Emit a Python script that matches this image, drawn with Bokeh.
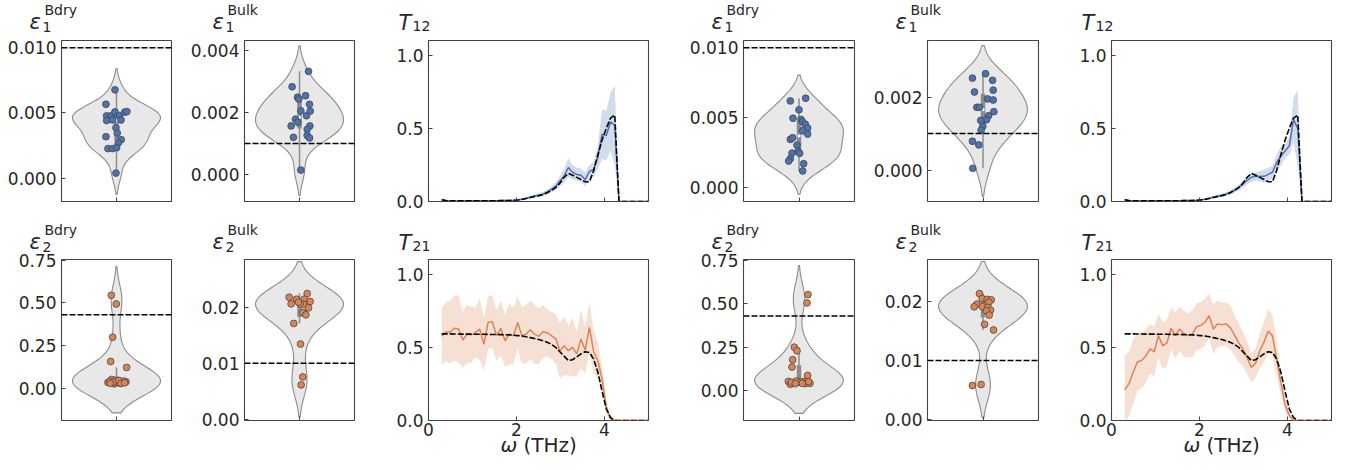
import numpy as np
from bokeh.plotting import figure
from bokeh.layouts import row, column
from bokeh.models import Range1d, FixedTicker, NumeralTickFormatter, Label, Span
from bokeh.embed import file_html
from bokeh.resources import INLINE

# ---------------------------------------------------------------- data ----
# fitted interface parameters (one value per fit) and their horizontal jitter
eps1_bdry_a = [0.00677, 0.00566, 0.00477, 0.00441, 0.00479, 0.00507, 0.00446, 0.00479, 0.00446, 0.00505,
               0.00510, 0.00386, 0.00345, 0.00317, 0.00294, 0.00269, 0.00226, 0.00226, 0.00233, 0.00038]
eps1_bdry_a_jit = [-0.014, -0.096, -0.090, -0.090, -0.047, -0.014, -0.035, 0.025, 0.041, 0.074,
                   0.095, -0.005, 0.007, -0.096, 0.043, 0.016, -0.078, -0.035, 0.001, -0.005]
eps1_bulk_a = [0.00334, 0.00284, 0.00250, 0.00244, 0.00255, 0.00227, 0.00206, 0.00205, 0.00190, 0.00179,
               0.00169, 0.00157, 0.00157, 0.00146, 0.00120, 0.00126, 0.00118, 0.00014]
eps1_bulk_a_jit = [0.082, -0.067, -0.018, -0.006, 0.055, 0.091, 0.012, 0.097, 0.064, -0.036,
                   -0.015, -0.076, 0.094, 0.070, -0.055, 0.070, 0.091, 0.012]
eps2_bdry_a = [0.544, 0.493, 0.298, 0.156, 0.121, 0.051, 0.033, 0.025, 0.029, 0.037,
               0.035, 0.043, 0.039, 0.033, 0.041, 0.035, 0.045, 0.027, 0.028, 0.031]
eps2_bdry_a_jit = [-0.047, -0.002, -0.035, -0.053, 0.092, -0.044, -0.078, -0.020, 0.031, 0.086,
                   0.007, -0.008, -0.062, 0.053, 0.068, -0.029, 0.022, 0.040, -0.056, 0.074]
eps2_bulk_a = [0.02178, 0.02243, 0.02142, 0.02142, 0.02059, 0.02053, 0.02101, 0.02059, 0.01988, 0.01905,
               0.01864, 0.01710, 0.01343, 0.00757, 0.00615, 0.02090]
eps2_bulk_a_jit = [-0.094, 0.070, -0.027, 0.042, -0.076, 0.036, 0.097, 0.006, 0.082, 0.030,
                   0.058, -0.052, 0.009, 0.030, 0.015, -0.009]

eps1_bdry_b = [0.00619, 0.00638, 0.00555, 0.00495, 0.00486, 0.00471, 0.00452, 0.00424, 0.00405, 0.00381,
               0.00343, 0.00355, 0.00302, 0.00257, 0.00245, 0.00243, 0.00205, 0.00188, 0.00169, 0.00117]
eps1_bdry_b_jit = [-0.078, 0.060, 0.000, -0.054, 0.018, 0.030, 0.057, 0.078, 0.033, 0.078,
                   -0.078, -0.057, -0.018, -0.009, -0.063, 0.006, -0.078, -0.093, 0.042, 0.033]
eps1_bulk_b = [0.00252, 0.00264, 0.00246, 0.00214, 0.00219, 0.00195, 0.00192, 0.00172, 0.00172, 0.00160,
               0.00149, 0.00138, 0.00136, 0.00120, 0.00109, 0.00079, 0.00069, 0.00005]
eps1_bulk_b_jit = [-0.095, 0.023, 0.086, -0.077, 0.092, 0.041, 0.092, -0.056, -0.032, 0.098,
                   0.050, 0.032, -0.020, -0.002, -0.017, -0.095, -0.038, -0.092]
eps2_bdry_b = [0.552, 0.504, 0.251, 0.230, 0.179, 0.137, 0.089, 0.055, 0.048, 0.051,
               0.055, 0.044, 0.038, 0.042, 0.057, 0.050, 0.050, 0.044, 0.042, 0.053]
eps2_bdry_b_jit = [0.081, 0.072, -0.042, -0.018, -0.057, -0.063, 0.078, -0.096, -0.045, -0.003,
                   0.048, 0.099, -0.078, 0.057, -0.024, 0.018, -0.069, 0.030, -0.033, 0.087]
eps2_bulk_b = [0.02140, 0.02056, 0.02040, 0.02034, 0.01960, 0.01994, 0.01915, 0.01920, 0.01904, 0.01859,
               0.01847, 0.01774, 0.01616, 0.01520, 0.00593, 0.00576]
eps2_bulk_b_jit = [-0.032, -0.008, 0.038, 0.074, -0.056, 0.053, -0.080, -0.005, 0.044, 0.068,
                   0.032, 0.056, 0.014, 0.095, -0.017, -0.095]

# reference (true) parameter values
eps1_bdry_ref = 0.010
eps1_bulk_ref = 0.001
eps2_bdry_ref = 0.43
eps2_bulk_ref = 0.010

# transmission spectra
freq = [0.300, 0.396, 0.492, 0.588, 0.684, 0.780, 0.876, 0.971, 1.067, 1.163,
        1.259, 1.355, 1.451, 1.547, 1.643, 1.739, 1.835, 1.931, 2.027, 2.122,
        2.218, 2.314, 2.410, 2.506, 2.602, 2.698, 2.794, 2.890, 2.986, 3.082,
        3.178, 3.273, 3.369, 3.465, 3.561, 3.657, 3.753, 3.849, 3.945, 4.041,
        4.137, 4.233, 4.329, 4.424, 4.520, 4.616, 4.712, 4.808, 4.904, 5.000]

t12_ref = [0.012, 0.006, 0.004, 0.004, 0.004, 0.004, 0.004, 0.005, 0.005, 0.005,
           0.005, 0.005, 0.005, 0.005, 0.006, 0.006, 0.007, 0.008, 0.010, 0.014,
           0.020, 0.027, 0.034, 0.040, 0.048, 0.060, 0.075, 0.095, 0.125, 0.165,
           0.192, 0.180, 0.165, 0.150, 0.135, 0.135, 0.210, 0.320, 0.420, 0.500,
           0.570, 0.590, 0.0, 0.0, 0.0, 0.0, 0.0, 0.0, 0.0, 0.0]
t21_ref = [0.592, 0.592, 0.592, 0.591, 0.591, 0.590, 0.590, 0.590, 0.589, 0.589,
           0.589, 0.588, 0.588, 0.588, 0.587, 0.586, 0.585, 0.583, 0.580, 0.577,
           0.572, 0.566, 0.560, 0.553, 0.545, 0.535, 0.520, 0.500, 0.470, 0.440,
           0.410, 0.415, 0.435, 0.455, 0.470, 0.465, 0.420, 0.330, 0.200, 0.080,
           0.020, 0.0, 0.0, 0.0, 0.0, 0.0, 0.0, 0.0, 0.0, 0.0]

t12_mean_a = [0.012, 0.006, 0.004, 0.004, 0.004, 0.004, 0.005, 0.005, 0.005, 0.005,
              0.005, 0.005, 0.005, 0.005, 0.006, 0.006, 0.007, 0.008, 0.011, 0.016,
              0.022, 0.030, 0.038, 0.043, 0.050, 0.065, 0.083, 0.105, 0.140, 0.175,
              0.232, 0.200, 0.185, 0.180, 0.150, 0.205, 0.220, 0.300, 0.460, 0.450,
              0.545, 0.520, 0.0, 0.0, 0.0, 0.0, 0.0, 0.0, 0.0, 0.0]
t12_std_a = [0.003, 0.003, 0.003, 0.003, 0.003, 0.003, 0.003, 0.003, 0.003, 0.003,
             0.003, 0.003, 0.003, 0.003, 0.003, 0.003, 0.003, 0.003, 0.005, 0.006,
             0.008, 0.010, 0.012, 0.013, 0.015, 0.018, 0.020, 0.025, 0.035, 0.050,
             0.065, 0.050, 0.045, 0.045, 0.050, 0.045, 0.050, 0.080, 0.170, 0.170,
             0.200, 0.270, 0.0, 0.0, 0.0, 0.0, 0.0, 0.0, 0.0, 0.0]
t12_mean_b = [0.012, 0.006, 0.004, 0.004, 0.004, 0.004, 0.005, 0.005, 0.005, 0.005,
              0.005, 0.005, 0.005, 0.005, 0.006, 0.006, 0.007, 0.009, 0.012, 0.016,
              0.022, 0.030, 0.036, 0.042, 0.050, 0.062, 0.077, 0.095, 0.118, 0.145,
              0.165, 0.172, 0.170, 0.172, 0.185, 0.200, 0.265, 0.310, 0.345, 0.380,
              0.560, 0.500, 0.0, 0.0, 0.0, 0.0, 0.0, 0.0, 0.0, 0.0]
t12_std_b = [0.003, 0.003, 0.003, 0.003, 0.003, 0.003, 0.003, 0.003, 0.003, 0.003,
             0.003, 0.003, 0.003, 0.003, 0.003, 0.003, 0.003, 0.003, 0.004, 0.005,
             0.006, 0.008, 0.010, 0.012, 0.014, 0.016, 0.018, 0.020, 0.024, 0.028,
             0.030, 0.030, 0.035, 0.045, 0.045, 0.040, 0.055, 0.065, 0.050, 0.060,
             0.150, 0.260, 0.0, 0.0, 0.0, 0.0, 0.0, 0.0, 0.0, 0.0]

t21_mean_a = [0.575, 0.605, 0.605, 0.630, 0.625, 0.550, 0.590, 0.585, 0.600, 0.625,
              0.520, 0.670, 0.675, 0.580, 0.630, 0.545, 0.590, 0.580, 0.670, 0.580,
              0.590, 0.620, 0.590, 0.575, 0.607, 0.600, 0.580, 0.560, 0.477, 0.510,
              0.477, 0.500, 0.455, 0.557, 0.480, 0.636, 0.470, 0.410, 0.284, 0.090,
              0.015, 0.0, 0.0, 0.0, 0.0, 0.0, 0.0, 0.0, 0.0, 0.0]
t21_std_a = [0.195, 0.200, 0.215, 0.220, 0.230, 0.190, 0.200, 0.190, 0.170, 0.210,
             0.180, 0.180, 0.180, 0.170, 0.190, 0.175, 0.210, 0.190, 0.180, 0.190,
             0.200, 0.200, 0.200, 0.190, 0.180, 0.160, 0.160, 0.170, 0.190, 0.200,
             0.170, 0.200, 0.150, 0.200, 0.160, 0.170, 0.150, 0.120, 0.080, 0.050,
             0.015, 0.0, 0.0, 0.0, 0.0, 0.0, 0.0, 0.0, 0.0, 0.0]
t21_mean_b = [0.210, 0.250, 0.330, 0.400, 0.410, 0.440, 0.490, 0.470, 0.580, 0.510,
              0.530, 0.630, 0.580, 0.625, 0.595, 0.580, 0.590, 0.640, 0.650, 0.670,
              0.716, 0.625, 0.660, 0.655, 0.660, 0.635, 0.585, 0.530, 0.490, 0.430,
              0.363, 0.390, 0.475, 0.535, 0.610, 0.580, 0.420, 0.260, 0.110, 0.035,
              0.0, 0.0, 0.0, 0.0, 0.0, 0.0, 0.0, 0.0, 0.0, 0.0]
t21_std_b = [0.230, 0.220, 0.220, 0.200, 0.190, 0.180, 0.170, 0.170, 0.150, 0.160,
             0.160, 0.140, 0.160, 0.150, 0.160, 0.150, 0.160, 0.160, 0.160, 0.160,
             0.150, 0.170, 0.160, 0.150, 0.150, 0.150, 0.140, 0.130, 0.120, 0.110,
             0.100, 0.100, 0.120, 0.140, 0.150, 0.140, 0.120, 0.080, 0.050, 0.020,
             0.0, 0.0, 0.0, 0.0, 0.0, 0.0, 0.0, 0.0, 0.0, 0.0]

# tick positions
ticks_eps1_bdry = [0.0, 0.005, 0.010]
ticks_eps1_bulk_a = [0.0, 0.002, 0.004]
ticks_eps1_bulk_b = [0.0, 0.002]
ticks_eps2_bdry = [0.0, 0.25, 0.50, 0.75]
ticks_eps2_bulk = [0.0, 0.01, 0.02]
ticks_t_y = [0.0, 0.5, 1.0]
ticks_t_x = [0, 2, 4]

# --------------------------------------------------------------- style ----
BLUE = "#4C72B0"
ORANGE = "#DD8452"
FRAME = "#444444"
TEXT = "#262626"
VIOLIN_FILL = "#e8e8e8"
VIOLIN_EDGE = "#8c8c8c"
BOX = "#8c8c8c"
FONT = "DejaVu Sans"

# column geometry: figure width, left border, right border
COLS = [(183, 61, 12), (183, 61, 12), (309, 62, 27), (191, 68, 12), (184, 61, 12), (308, 61, 27)]
# row geometry: figure height, top border, bottom border
ROWS = [(214, 39, 13), (256, 45, 50)]
LIFT = 6      # raises label baselines to where the text should sit


def base_fig(col, rw, xr, yr):
    width, left, right = COLS[col]
    height, top, bottom = ROWS[rw]
    p = figure(width=width, height=height, x_range=Range1d(*xr), y_range=Range1d(*yr),
               output_backend="svg", toolbar_location=None, title=None,
               min_border_left=left, min_border_right=right,
               min_border_top=top, min_border_bottom=bottom)
    p.grid.visible = False
    p.background_fill_color = "white"
    p.border_fill_color = "white"
    p.outline_line_color = FRAME
    p.outline_line_width = 1.1
    p.outline_line_alpha = 1.0
    for ax in (p.xaxis[0], p.yaxis[0]):
        ax.axis_line_color = None
        ax.major_tick_in = 4
        ax.major_tick_out = 0
        ax.major_tick_line_color = FRAME
        ax.major_tick_line_width = 1
        ax.minor_tick_line_color = None
        ax.major_label_text_font = FONT
        ax.major_label_text_font_size = "17px"
        ax.major_label_text_color = TEXT
    p.yaxis.major_label_standoff = 5
    p.xaxis.major_label_standoff = 2
    return p


def hide_x_labels(p, ticks):
    p.xaxis.major_label_overrides = {t: "" for t in ticks}
    p.xaxis.major_label_text_font_size = "0px"
    p.xaxis.major_label_standoff = 0


def border_label(p, x, y, text, size, style, side):
    # text placed in canvas pixels; kept in a border panel so the frame does not clip it
    p.add_layout(Label(x=x, y=y - LIFT, x_units="canvas", y_units="canvas", text=text,
                       text_font=FONT, text_font_size=size, text_font_style=style,
                       text_color=TEXT, text_align="left", text_baseline="alphabetic"), side)


def kde_outline(vals, cut=2.0, gridsize=100):
    v = np.asarray(vals, dtype=float)
    bw = v.std(ddof=1) * v.size ** (-0.2)          # Scott's rule
    ys = np.linspace(v.min() - cut * bw, v.max() + cut * bw, gridsize)
    dens = np.exp(-0.5 * ((ys[:, None] - v[None, :]) / bw) ** 2).sum(axis=1)
    return ys, dens / dens.max()


def violin_panel(col, rw, vals, jit, ref, color, yr, ticks, fmt, sub, sup):
    p = base_fig(col, rw, (-0.5, 0.5), yr)
    v = np.asarray(vals, dtype=float)
    ys, dens = kde_outline(v)
    half = 0.4 * dens
    p.patch(np.concatenate([-half, half[::-1]]), np.concatenate([ys, ys[::-1]]),
            fill_color=VIOLIN_FILL, line_color=VIOLIN_EDGE, line_width=1.1)
    q25, q50, q75 = np.percentile(v, [25, 50, 75])
    lim = 1.5 * (q75 - q25)
    lo = v[v >= q25 - lim].min()
    hi = v[v <= q75 + lim].max()
    p.segment(x0=[0], y0=[lo], x1=[0], y1=[hi], line_color=BOX, line_width=1.5)
    p.segment(x0=[0], y0=[q25], x1=[0], y1=[q75], line_color=BOX, line_width=4.5)
    p.scatter([0], [q50], size=4, fill_color="white", line_color=BOX, line_width=0.8)
    p.add_layout(Span(location=ref, dimension="width", line_color="black",
                      line_dash="6 2", line_width=1.5))
    p.scatter(jit, v, size=6.8, fill_color=color, line_color="#474747", line_width=0.8)
    p.xaxis.ticker = FixedTicker(ticks=[0])
    hide_x_labels(p, [0])
    p.yaxis.ticker = FixedTicker(ticks=ticks)
    p.yaxis.formatter = NumeralTickFormatter(format=fmt)
    # heading: epsilon with subscript and superscript
    fl, ft = COLS[col][1], ROWS[rw][1]
    border_label(p, fl - 32, ft - 12, "ε", "21px", "italic", "above")
    border_label(p, fl - 17, ft - 24, sup, "14px", "normal", "above")
    border_label(p, fl - 19, ft - 7, sub, "14px", "normal", "right")
    return p


def spectrum_panel(col, rw, mean, std, ref, color, sub, xlabels):
    p = base_fig(col, rw, (0, 5), (0, 1.1))
    m = np.asarray(mean, dtype=float)
    s = np.asarray(std, dtype=float)
    p.varea(x=freq, y1=m - s, y2=m + s, fill_color=color, fill_alpha=0.25)
    p.line(freq, m, line_color=color, line_width=1.5)
    p.line(freq, ref, line_color="black", line_dash="6 2", line_width=1.6)
    p.yaxis.ticker = FixedTicker(ticks=ticks_t_y)
    p.yaxis.formatter = NumeralTickFormatter(format="0.0")
    p.xaxis.ticker = FixedTicker(ticks=ticks_t_x)
    width, fl, fr = COLS[col]
    height, ft, fbot = ROWS[rw]
    if xlabels:
        p.xaxis.formatter = NumeralTickFormatter(format="0")
        fb = height - fbot                      # frame bottom edge in the canvas
        mid = fl + (width - fl - fr) / 2
        border_label(p, mid - 38, fb + 30, "ω", "20px", "italic", "right")
        border_label(p, mid - 15, fb + 30, "(THz)", "20px", "normal", "below")
    else:
        hide_x_labels(p, ticks_t_x)
    border_label(p, fl - 30, ft - 11, "T", "21px", "italic", "above")
    border_label(p, fl - 16, ft - 8, sub, "14px", "normal", "left")
    return p


panels_top = row(
    violin_panel(0, 0, eps1_bdry_a, eps1_bdry_a_jit, eps1_bdry_ref, BLUE, (-0.0018, 0.01055),
                 ticks_eps1_bdry, "0.000", "1", "Bdry"),
    violin_panel(1, 0, eps1_bulk_a, eps1_bulk_a_jit, eps1_bulk_ref, BLUE, (-0.00088, 0.00434),
                 ticks_eps1_bulk_a, "0.000", "1", "Bulk"),
    spectrum_panel(2, 0, t12_mean_a, t12_std_a, t12_ref, BLUE, "12", False),
    violin_panel(3, 0, eps1_bdry_b, eps1_bdry_b_jit, eps1_bdry_ref, BLUE, (-0.00102, 0.01052),
                 ticks_eps1_bdry, "0.000", "1", "Bdry"),
    violin_panel(4, 0, eps1_bulk_b, eps1_bulk_b_jit, eps1_bulk_ref, BLUE, (-0.00086, 0.00355),
                 ticks_eps1_bulk_b, "0.000", "1", "Bulk"),
    spectrum_panel(5, 0, t12_mean_b, t12_std_b, t12_ref, BLUE, "12", False),
)
panels_bottom = row(
    violin_panel(0, 1, eps2_bdry_a, eps2_bdry_a_jit, eps2_bdry_ref, ORANGE, (-0.19, 0.754),
                 ticks_eps2_bdry, "0.00", "2", "Bdry"),
    violin_panel(1, 1, eps2_bulk_a, eps2_bulk_a_jit, eps2_bulk_ref, ORANGE, (-0.0002, 0.0285),
                 ticks_eps2_bulk, "0.00", "2", "Bulk"),
    spectrum_panel(2, 1, t21_mean_a, t21_std_a, t21_ref, ORANGE, "21", True),
    violin_panel(3, 1, eps2_bdry_b, eps2_bdry_b_jit, eps2_bdry_ref, ORANGE, (-0.169, 0.753),
                 ticks_eps2_bdry, "0.00", "2", "Bdry"),
    violin_panel(4, 1, eps2_bulk_b, eps2_bulk_b_jit, eps2_bulk_ref, ORANGE, (-0.0002, 0.0272),
                 ticks_eps2_bulk, "0.00", "2", "Bulk"),
    spectrum_panel(5, 1, t21_mean_b, t21_std_b, t21_ref, ORANGE, "21", True),
)
layout = column(panels_top, panels_bottom)

open("out.html", "w").write(file_html(layout, INLINE))
